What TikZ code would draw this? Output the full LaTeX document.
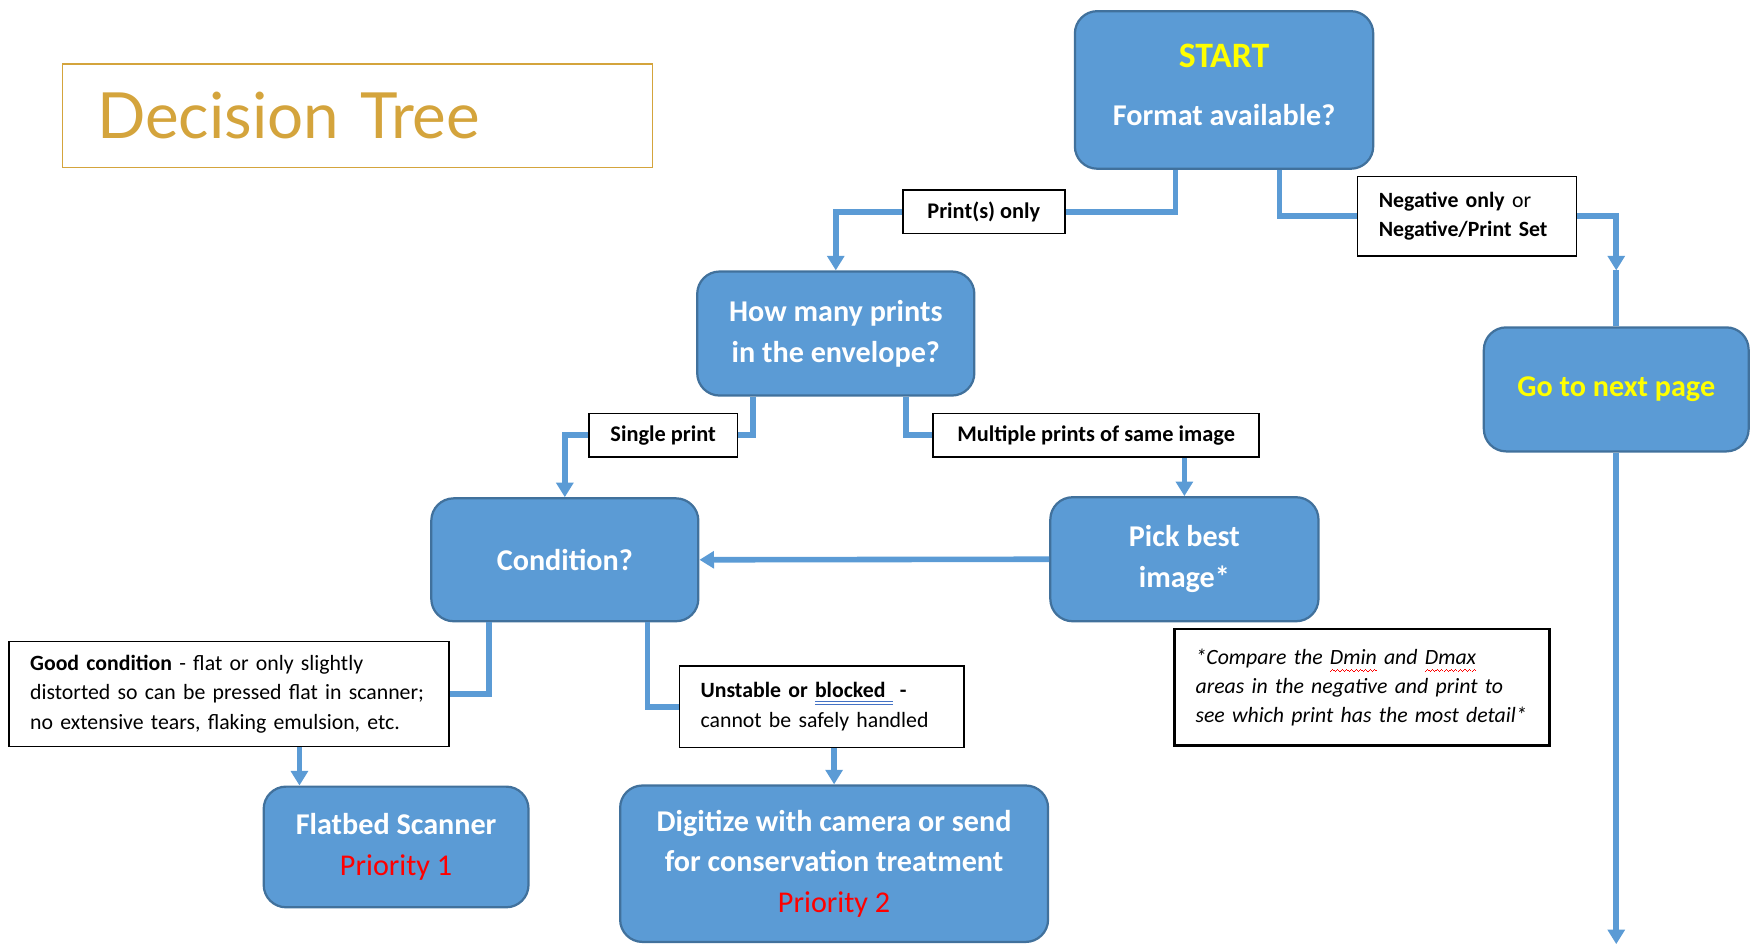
\documentclass[tikz,border=0pt]{standalone}
\usepackage{fontspec}
\setmainfont{Carlito}
\newfontfamily\titlefont{Lato}
\usepackage{xcolor}
\definecolor{boxBlue}{HTML}{5B9BD5}
\definecolor{boxEdge}{HTML}{41719C}
\definecolor{titleGold}{HTML}{D4A43C}
\definecolor{hiYellow}{HTML}{FFFF00}
\definecolor{prioRed}{HTML}{FF0000}
\definecolor{gramBlue}{HTML}{4472C4}
\usepackage{tikz}
\usetikzlibrary{arrows.meta, positioning}
\newcommand{\spellerr}[1]{\setbox0\hbox{#1}\leavevmode
  \rlap{\color{red}\hbox to \wd0{\xleaders\hbox{\rule[-7pt]{1pt}{0.8pt}\rule[-6.2pt]{1pt}{0.8pt}\rule[-5.4pt]{1pt}{0.8pt}\rule[-6.2pt]{1pt}{0.8pt}}\hfill}}\box0\relax}
\newcommand{\gramerr}[1]{\setbox0\hbox{#1}\leavevmode
  \rlap{\color{gramBlue}\rule[-4pt]{\wd0}{1pt}}\rlap{\color{gramBlue}\rule[-6.5pt]{\wd0}{1pt}}\box0\relax}

\begin{document}
\begin{tikzpicture}[x=1pt, y=-1pt,
  decision/.style={draw=boxEdge, line width=2pt, fill=boxBlue, rounded corners=20pt,
    text=white, align=center, inner sep=0pt, font=\bfseries\fontsize{27}{36.5}\selectfont},
  answer/.style={draw=black, line width=1.5pt, fill=white, inner sep=0pt,
    font=\bfseries\fontsize{20}{26}\selectfont},
  remark/.style={draw=black, line width=1.5pt, fill=white, align=left, inner ysep=0pt,
    inner xsep=19pt, font=\fontsize{19.5}{26.5}\selectfont},
  link/.style={draw=boxBlue, line width=5pt},
  tip/.style={link, -{Triangle[length=13pt, width=15pt]}},
]
  \useasboundingbox (0,0) rectangle (1568,845);

  \node[draw=titleGold, line width=1.5pt, minimum width=528pt, minimum height=93pt, align=left,
    text width=466pt, inner xsep=31pt, text=titleGold, font=\titlefont\fontsize{57}{60}\selectfont]
    (title) at (320,103.5) {Decision Tree};

  \node[decision, minimum width=267pt, minimum height=141pt] (start) at (1095.5,80.5)
    {{\fontsize{32}{38}\selectfont\color{hiYellow}START}\\[15pt]Format available?\rule[-9pt]{0pt}{9pt}};
  \node[decision, minimum width=248pt, minimum height=111pt] (howmany) at (748,298.5) {How many prints\\in the envelope?};
  \node[decision, minimum width=239pt, minimum height=110pt] (cond) at (505.5,501) {Condition?};
  \node[decision, minimum width=240pt, minimum height=111pt] (pick) at (1060,500.5) {Pick best\\image*};
  \node[decision, minimum width=237pt, minimum height=111pt, text=hiYellow] (next) at (1446.5,348.5) {Go to next page};
  \node[decision, minimum width=237pt, minimum height=108pt] (flatbed) at (354.5,758)
    {Flatbed Scanner\\{\mdseries\color{prioRed}Priority 1}};
  \node[decision, minimum width=383pt, minimum height=140pt] (digitize) at (746.5,773)
    {Digitize with camera or send\\for conservation treatment\\{\mdseries\color{prioRed}Priority 2}};

  \node[answer, minimum width=145pt, minimum height=39pt] (prints) at (880.5,189.5) {Print(s) only};
  \node[remark, text width=158pt, minimum height=71pt, font=\fontsize{19.5}{26}\selectfont] (neg) at (1313,193.5)
    {\textbf{Negative only} or\\\textbf{Negative/Print Set}};
  \node[answer, minimum width=133pt, minimum height=39pt] (single) at (593.5,389.5) {Single print};
  \node[answer, minimum width=292pt, minimum height=39pt] (multi) at (981,389.5) {Multiple prints of same image};
  \node[remark, text width=356pt, minimum height=94pt] (good) at (205,621)
    {\textbf{Good condition} - flat or only slightly\\distorted so can be pressed flat in scanner;\\no extensive tears, flaking emulsion, etc.};
  \node[remark, text width=217pt, minimum height=73pt] (unstable) at (735.5,632.5)
    {\textbf{Unstable or \gramerr{blocked\ }\ -}\\cannot be safely handled};
  \node[remark, line width=2.5pt, text width=298pt, minimum height=104pt, font=\itshape\fontsize{19.5}{26}\selectfont]
    (note) at (1219,615) {*Compare the \spellerr{Dmin} and \spellerr{Dmax}\\areas in the negative and print to\\see which print has the most detail*};

  \draw[link] ([xshift=-43.5pt]start.south) |- (prints.east);
  \draw[tip] (prints.west) -| (howmany.north);
  \draw[link] ([xshift=49.5pt]start.south) |- (neg.west);
  \coordinate (negtip) at ([yshift=50pt]next.north);
  \draw[tip] (neg.east) -| (negtip);
  \draw[link] (negtip) -- (next.north);

  \draw[link] ([xshift=-74pt]howmany.south) |- (single.east);
  \draw[tip] (single.west) -| (cond.north);
  \draw[link] ([xshift=63pt]howmany.south) |- (multi.west);
  \draw[tip] (multi.south -| pick.north) -- (pick.north);
  \draw[tip] (pick.west) -- (cond.east);

  \draw[link] ([xshift=-68pt]cond.south) |- (good.east);
  \coordinate (goodout) at ([xshift=63pt]good.south);
  \draw[tip] (goodout) -- (goodout |- flatbed.north);
  \draw[link] ([xshift=74pt]cond.south) |- (unstable.west);
  \draw[tip] (unstable.south -| digitize.north) -- (digitize.north);

  \coordinate (pageend) at (1448,845);
  \draw[tip] (next.south) -- (next.south |- pageend);
\end{tikzpicture}
\end{document}
